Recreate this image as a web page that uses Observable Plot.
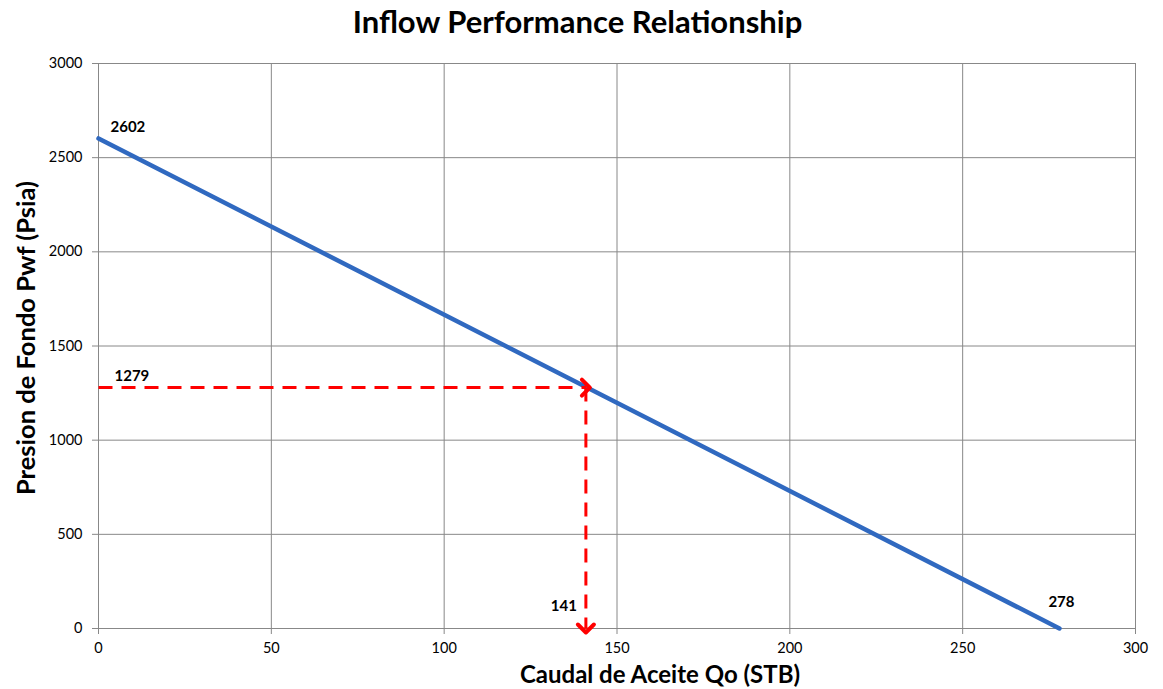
<!DOCTYPE html>
<html>
<head>
<meta charset="utf-8">
<script src="https://cdn.jsdelivr.net/npm/d3@7"></script>
<script src="https://cdn.jsdelivr.net/npm/@observablehq/plot@0.6"></script>
<style>
  html, body { margin: 0; padding: 0; background: #fff; }
  #title { height: 45px; line-height: 42px; text-align: center; font-family: Lato, "Open Sans", sans-serif; font-weight: 700; font-size: 31px; color: #000; padding-right: 8px; }
</style>
</head>
<body>
<div id="title">Inflow Performance Relationship</div>
<div id="chart"></div>
<script>
// IPR straight line: Qo (STB) vs Pwf (psia)
const qo = [0, 278];
const pwf = [2602, 0];
// Operating point
const opQ = 141;
const opP = 1279;
// Labels
const pointLabels = ["2602", "1279", "141", "278"];
const xTicks = [0, 50, 100, 150, 200, 250, 300];
const yTicks = [0, 500, 1000, 1500, 2000, 2500, 3000];
const xLabel = "Caudal de Aceite Qo (STB)";
const yLabel = "Presion de Fondo Pwf (Psia)";

const ipr = qo.map((q, i) => ({q, p: pwf[i]}));
const hLine = [{x1: 0, x2: opQ, y1: opP, y2: opP}];
const vLine = [{x1: opQ, x2: opQ, y1: opP, y2: 0}];
const hHead = [{x1: opQ - 0.5, x2: opQ, y1: opP, y2: opP}];
const vHead = [{x1: opQ, x2: opQ, y1: 5, y2: 0}];

const labels = [
  {x: qo[0], y: pwf[0], t: pointLabels[0], dx: 12, dy: -11, anchor: "start"},
  {x: 0, y: opP, t: pointLabels[1], dx: 16, dy: -11, anchor: "start"},
  {x: opQ, y: 0, t: pointLabels[2], dx: -9, dy: -22, anchor: "end"},
  {x: qo[1], y: pwf[1], t: pointLabels[3], dx: 2, dy: -26, anchor: "middle"}
];

const font = "Lato, 'Open Sans', sans-serif";
const chart = Plot.plot({
  width: 1163,
  height: 644,
  marginTop: 18,
  marginBottom: 61,
  marginLeft: 98,
  marginRight: 28,
  style: {fontFamily: font, fontSize: "14px", color: "#000", background: "#fff"},
  x: {domain: [0, 300], ticks: xTicks, label: null},
  y: {domain: [0, 3000], ticks: yTicks, label: null},
  marks: [
    Plot.gridX(xTicks, {stroke: "#888", strokeOpacity: 1, strokeWidth: 1}),
    Plot.gridY(yTicks, {stroke: "#888", strokeOpacity: 1, strokeWidth: 1}),
    Plot.axisX({ticks: xTicks, tickSize: 6, tickPadding: 8, stroke: "#888", fontSize: 14.5, label: null, tickFormat: d => String(d)}),
    Plot.axisY({ticks: yTicks, tickSize: 6, tickPadding: 10, stroke: "#888", fontSize: 14.5, label: null, tickFormat: d => String(d)}),
    Plot.line(ipr, {x: "q", y: "p", stroke: "#3069c0", strokeWidth: 4.5, strokeLinecap: "round"}),
    Plot.link(hLine, {x1: "x1", x2: "x2", y1: "y1", y2: "y2", stroke: "#ff0000", strokeWidth: 3, strokeDasharray: "14,9"}),
    Plot.link(vLine, {x1: "x1", x2: "x2", y1: "y1", y2: "y2", stroke: "#ff0000", strokeWidth: 3, strokeDasharray: "14,9"}),
    Plot.link(hHead, {x1: "x1", x2: "x2", y1: "y1", y2: "y2", stroke: "#ff0000", strokeWidth: 4, markerEnd: "arrow"}),
    Plot.link(vHead, {x1: "x1", x2: "x2", y1: "y1", y2: "y2", stroke: "#ff0000", strokeWidth: 4, markerEnd: "arrow"}),
    ...labels.map(l => Plot.text([l], {x: "x", y: "y", text: "t", dx: l.dx, dy: l.dy, textAnchor: l.anchor, fontWeight: "bold", fontSize: 15, fill: "#000"})),
    Plot.text([xLabel], {frameAnchor: "bottom", dx: 43, dy: 54, fontSize: 24, fontWeight: "bold", fill: "#000", textAnchor: "middle"}),
    Plot.text([yLabel], {frameAnchor: "left", dx: -72, dy: -8, rotate: -90, fontSize: 25.5, fontWeight: "bold", fill: "#000", textAnchor: "middle", lineAnchor: "middle"})
  ]
});
document.getElementById("chart").appendChild(chart);
</script>
</body>
</html>
